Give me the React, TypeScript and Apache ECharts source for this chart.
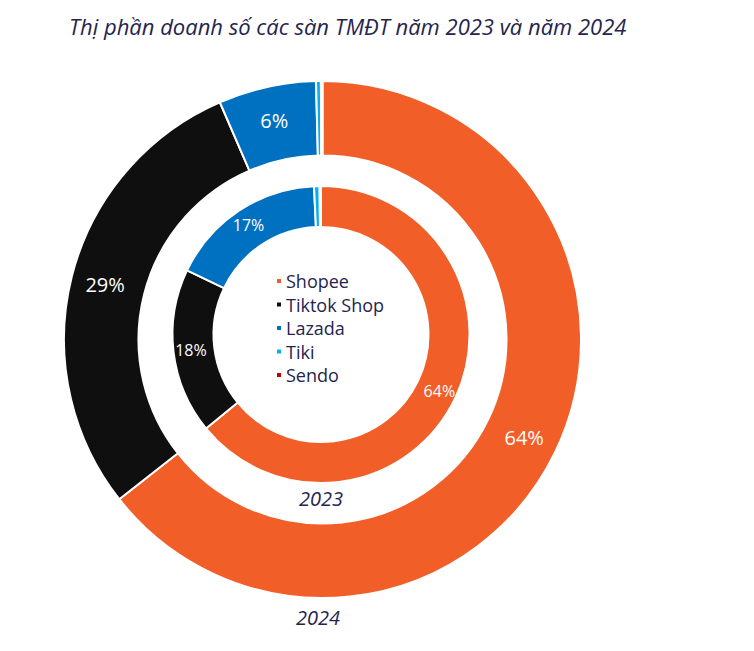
import React, { useEffect, useRef } from "react";
import * as echarts from "echarts";

const platforms = ["Shopee", "Tiktok Shop", "Lazada", "Tiki", "Sendo"];
const colors = ["#F15E28", "#0F0F0F", "#0070C0", "#00B0F0", "#C00000"];
const share2023 = [64.1, 18.0, 17.15, 0.6, 0.15];
const share2024 = [64.4, 29.1, 6.1, 0.3, 0.1];
const titleText = "Thị phần doanh số các sàn TMĐT năm 2023 và năm 2024";
const yearLabels = ["2023", "2024"];

const navy = "#24244E";
const font = "'Open Sans', 'Noto Sans', sans-serif";

export default function App() {
  const ref = useRef<HTMLDivElement>(null);
  useEffect(() => {
    document.body.style.margin = "0";
    const chart = echarts.init(ref.current!, null, { renderer: "svg" });
    const mk = (vals: number[]) =>
      platforms.map((name, i) => ({ name, value: vals[i], itemStyle: { color: colors[i] } }));
    const fmt = (p: any) => (p.value >= 2 ? Math.round(p.value) + "%" : "");
    chart.setOption({
      animation: false,
      backgroundColor: "#ffffff",
      title: {
        text: titleText,
        left: 64,
        top: 10,
        textStyle: { fontFamily: font, fontStyle: "italic", fontWeight: "normal", fontSize: 22, color: navy },
      },
      legend: {
        orient: "vertical",
        left: 270,
        top: 267,
        itemWidth: 6,
        itemHeight: 6,
        itemGap: 5.5,
        icon: "rect",
        data: platforms,
        textStyle: { fontFamily: font, fontSize: 18, color: navy, lineHeight: 18, padding: [0, 0, 0, -1] },
      },
      graphic: [
        {
          type: "text",
          x: 321,
          y: 498,
          style: { text: yearLabels[0], fontFamily: font, fontStyle: "italic", fontSize: 20, fill: navy, textAlign: "center", textVerticalAlign: "middle" },
        },
        {
          type: "text",
          x: 318,
          y: 617,
          style: { text: yearLabels[1], fontFamily: font, fontStyle: "italic", fontSize: 20, fill: navy, textAlign: "center", textVerticalAlign: "middle" },
        },
      ],
      series: [
        {
          type: "pie",
          name: "2024",
          center: [322.5, 339.5],
          radius: [184, 258.5],
          startAngle: 90,
          clockwise: true,
          avoidLabelOverlap: false,
          itemStyle: { borderColor: "#ffffff", borderWidth: 2 },
          label: { show: true, position: "inside", formatter: fmt, color: "#ffffff", fontFamily: font, fontSize: 20 },
          labelLine: { show: false },
          emphasis: { disabled: true },
          data: mk(share2024),
        },
        {
          type: "pie",
          name: "2023",
          center: [321, 334.5],
          radius: [107.5, 148.5],
          startAngle: 90,
          clockwise: true,
          avoidLabelOverlap: false,
          itemStyle: { borderColor: "#ffffff", borderWidth: 2 },
          label: { show: true, position: "inside", formatter: fmt, color: "#ffffff", fontFamily: font, fontSize: 16 },
          labelLine: { show: false },
          emphasis: { disabled: true },
          data: mk(share2023),
        },
      ],
    });
    return () => chart.dispose();
  }, []);
  return <div ref={ref} style={{ width: 754, height: 651 }} />;
}
